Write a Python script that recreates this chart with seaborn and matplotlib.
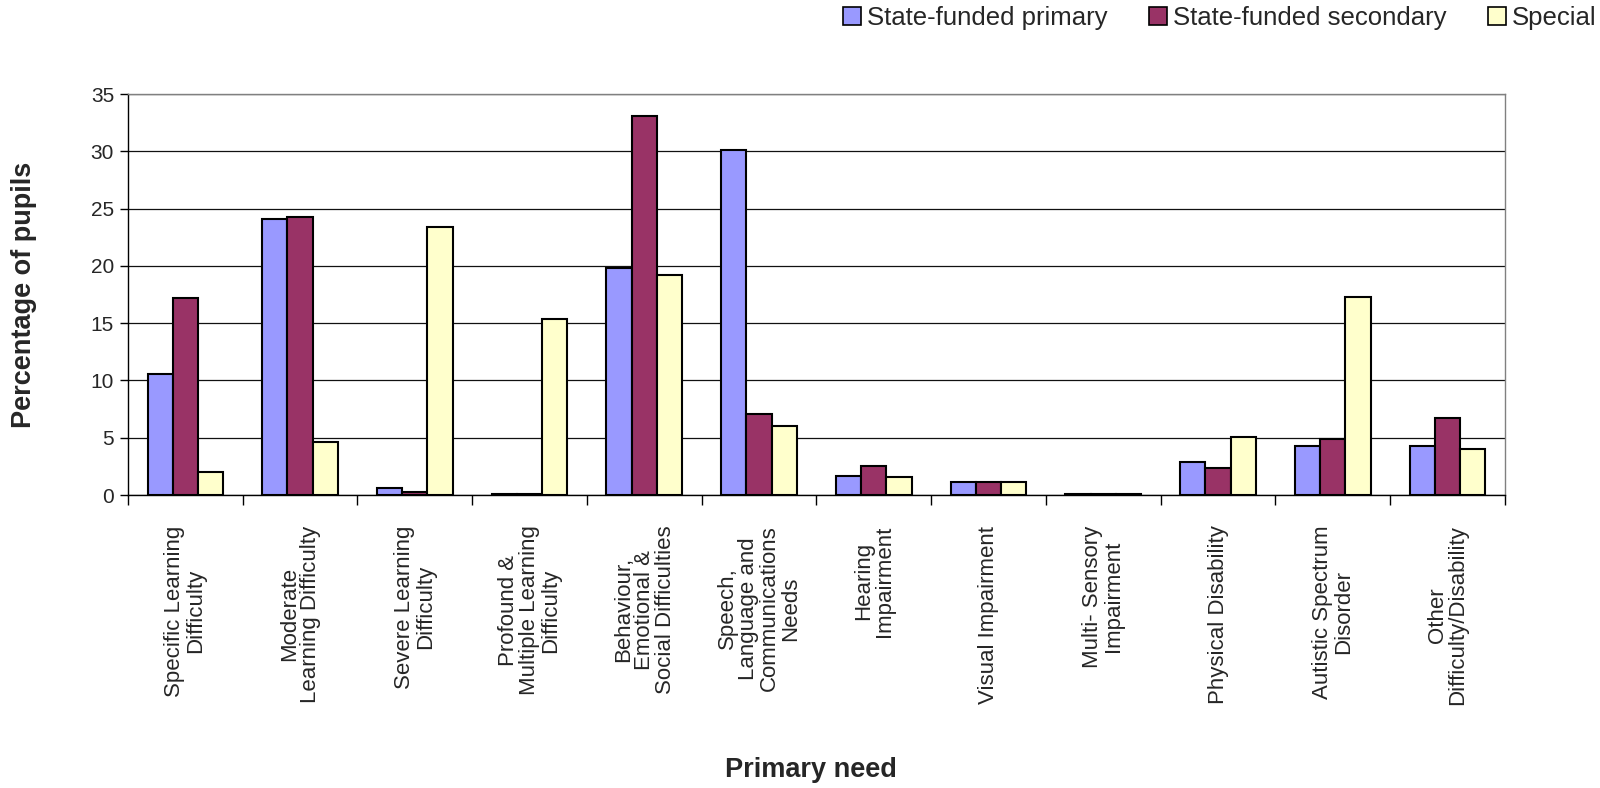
import pandas as pd
import matplotlib
matplotlib.use('Agg')
import matplotlib.pyplot as plt
import seaborn as sns
from matplotlib.patches import Patch

# Categories and values
needs = [
    'Specific Learning\nDifficulty',
    'Moderate\nLearning Difficulty',
    'Severe Learning\nDifficulty',
    'Profound &\nMultiple Learning\nDifficulty',
    'Behaviour,\nEmotional &\nSocial Difficulties',
    'Speech,\nLanguage and\nCommunications\nNeeds',
    'Hearing\nImpairment',
    'Visual Impairment',
    'Multi- Sensory\nImpairment',
    'Physical Disability',
    'Autistic Spectrum\nDisorder',
    'Other\nDifficulty/Disability',
]
primary = [10.6, 24.1, 0.6, 0.1, 19.8, 30.1, 1.7, 1.1, 0.1, 2.9, 4.3, 4.3]
secondary = [17.2, 24.3, 0.3, 0.05, 33.1, 7.1, 2.5, 1.1, 0.05, 2.4, 4.9, 6.7]
special = [2.0, 4.6, 23.4, 15.4, 19.2, 6.0, 1.6, 1.1, 0.05, 5.1, 17.3, 4.0]

series = ['State-funded primary', 'State-funded secondary', 'Special']
colors = ['#9999FF', '#993366', '#FFFFCC']

rows = []
for name, vals in zip(series, [primary, secondary, special]):
    for need, v in zip(needs, vals):
        rows.append({'Need': need, 'School': name, 'Pct': v})
data = pd.DataFrame(rows)

sns.set_style('white')
plt.rcParams['font.family'] = ['Liberation Sans', 'DejaVu Sans']

fig = plt.figure(figsize=(16, 7.88), dpi=100)
ax = fig.add_axes([0.08, 0.3718, 0.8606, 0.5089])

sns.barplot(data=data, x='Need', y='Pct', hue='School', order=needs,
            hue_order=series, palette=colors, saturation=1, width=0.66,
            edgecolor='black', linewidth=1.5, legend=False, ax=ax)

ax.set_ylim(0, 35)
ax.set_yticks(range(0, 36, 5))
ax.set_xlim(-0.5, len(needs) - 0.5)
ax.yaxis.grid(True, color='#111111', linewidth=0.9)
ax.set_axisbelow(True)

for side in ['top', 'right']:
    ax.spines[side].set_color('#808080')
    ax.spines[side].set_linewidth(1.0)
for side in ['left', 'bottom']:
    ax.spines[side].set_color('black')
    ax.spines[side].set_linewidth(1.0)

ax.set_xticks(range(len(needs)))
ax.set_xticklabels(needs, rotation=90, ha='center', va='top',
                   multialignment='center', fontsize=16, linespacing=1.0)
ax.tick_params(axis='x', which='major', length=0, pad=22)
ax.set_xticks([i - 0.5 for i in range(len(needs) + 1)], minor=True)
ax.tick_params(axis='x', which='minor', length=7, width=1, color='black',
               direction='out', bottom=True)
ax.tick_params(axis='y', length=6, width=1, color='black', direction='out',
               left=True, labelsize=15, pad=4)

ax.set_xlabel('')
ax.set_ylabel('Percentage of pupils', fontsize=19.5, fontweight='bold')
ax.yaxis.set_label_coords(-0.066, 0.5)
fig.text(0.507, 1 - 770 / 788, 'Primary need', fontsize=19.5, fontweight='bold',
         ha='center', va='center')

handles = [Patch(facecolor=c, edgecolor='black', linewidth=1.2) for c in colors]
fig.legend(handles, series, loc='center right',
           bbox_to_anchor=(0.998, 1 - 18 / 788), borderaxespad=0, borderpad=0,
           ncol=3, frameon=False, fontsize=18.5, handlelength=0.7,
           handleheight=0.7, handletextpad=0.25, columnspacing=1.6)

plt.savefig('out.png', dpi=100)
